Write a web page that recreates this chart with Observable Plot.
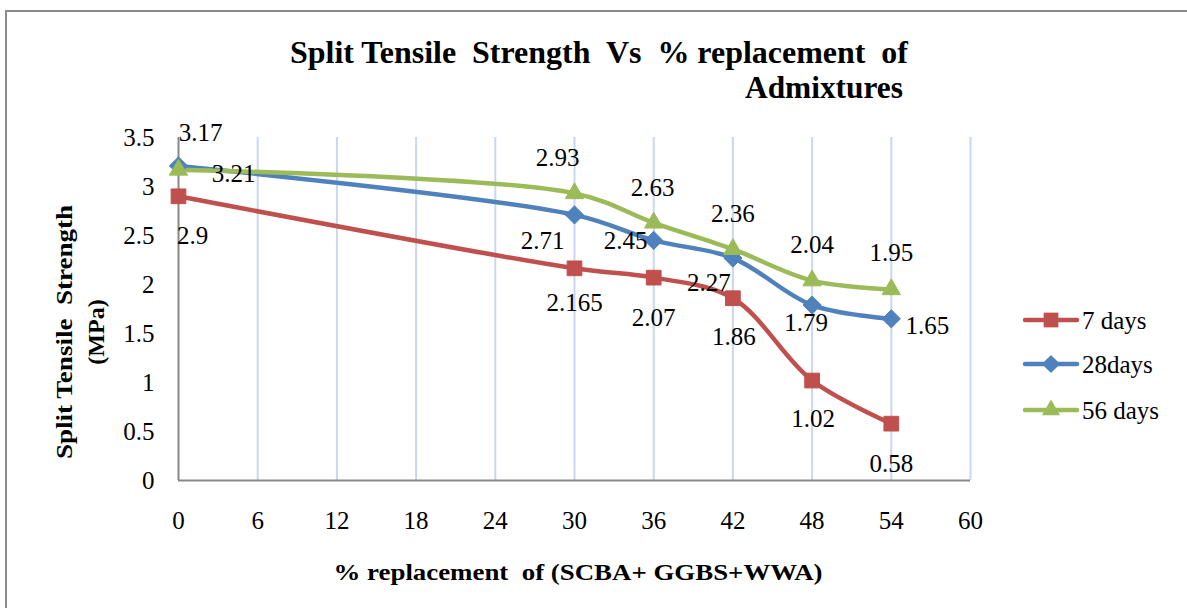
<!DOCTYPE html>
<html>
<head>
<meta charset="utf-8">
<script src="https://cdn.jsdelivr.net/npm/d3@7"></script>
<script src="https://cdn.jsdelivr.net/npm/@observablehq/plot@0.6"></script>
<style>
  html, body { margin: 0; padding: 0; background: #fff; }
  #wrap { position: relative; width: 1187px; height: 608px; overflow: hidden; font-family: "Liberation Serif", "Times New Roman", serif; }
  #frame { position: absolute; left: 5px; top: 10px; width: 1300px; height: 700px; border-left: 2px solid #8a8a8a; border-top: 2px solid #8a8a8a; }
  #chart { position: absolute; left: 0; top: 0; }
  #overlay { position: absolute; left: 0; top: 0; pointer-events: none; }
  #overlay text { white-space: pre; }
</style>
</head>
<body>
<div id="wrap">
  <div id="frame"></div>
  <div id="chart"></div>
  <svg id="overlay" width="1187" height="608"></svg>
</div>
<script>
// ---- data ----
const replacement = [0, 30, 36, 42, 48, 54];
const seriesNames = ["7 days", "28days", "56 days"];
const days7  = [2.9, 2.165, 2.07, 1.86, 1.02, 0.58];
const days28 = [3.21, 2.71, 2.45, 2.27, 1.79, 1.65];
const days56 = [3.17, 2.93, 2.63, 2.36, 2.04, 1.95];
const xTicks = [0, 6, 12, 18, 24, 30, 36, 42, 48, 54, 60];
const yTicks = [0, 0.5, 1, 1.5, 2, 2.5, 3, 3.5];

// ---- styling / layout ----
const colors = ["#C0504D", "#4F81BD", "#9BBB59"];
const symbols = ["square", "diamond2", "triangle"];
const symR = [8.3, 8.2, 6.8];
const fs = 25;
// label nudges (pixels) per series, per point
const nudges = [
  [[14, 40], [0, 35], [0, 40], [1, 39], [1, 38], [0, 40]],
  [[55, 8], [-32, 26], [-28, 1], [-24, 25], [-6, 18], [36, 7]],
  [[22, -37], [-17, -35], [-1, -35], [0, -35], [0, -36], [0, -36]]
];
const allValues = [days7, days28, days56];
const rows = [];
allValues.forEach((vals, s) => vals.forEach((v, i) => rows.push({series: seriesNames[s], s, i, x: replacement[i], y: v, label: String(v)})));

const font = '"Liberation Serif", "Times New Roman", serif';
const marks = [
  Plot.ruleX(xTicks.filter(d => d > 0), {stroke: "#c9d7ef", strokeWidth: 2}),
  Plot.ruleY([0], {stroke: "#888", strokeWidth: 2}),
  Plot.ruleX([0], {stroke: "#888", strokeWidth: 2}),
  Plot.axisX({ticks: xTicks, tickSize: 0, tickPadding: 31, label: null, fontSize: fs, fill: "#000"}),
  Plot.axisY({ticks: yTicks, tickSize: 0, tickPadding: 24, label: null, fontSize: fs, fill: "#000", tickFormat: d => String(d)})
];
seriesNames.forEach((name, s) => {
  const data = rows.filter(r => r.s === s);
  marks.push(Plot.line(data, {x: "x", y: "y", stroke: colors[s], strokeWidth: 4.5, curve: "catmull-rom"}));
});
seriesNames.forEach((name, s) => {
  const data = rows.filter(r => r.s === s);
  marks.push(Plot.dot(data, {x: "x", y: "y", symbol: () => symbols[s], r: symR[s], fill: colors[s], stroke: colors[s], strokeWidth: 1}));
});
rows.forEach(r => {
  const [dx, dy] = nudges[r.s][r.i];
  marks.push(Plot.text([r], {x: "x", y: "y", text: "label", dx, dy, fontSize: fs, fill: "#000"}));
});

const chart = Plot.plot({
  width: 1187,
  height: 608,
  marginLeft: 178,
  marginRight: 217,
  marginTop: 137,
  marginBottom: 128,
  style: {fontFamily: font, background: "transparent", overflow: "visible"},
  x: {domain: [0, 60]},
  y: {domain: [0, 3.5]},
  marks
});
document.getElementById("chart").appendChild(chart);

// ---- titles & legend ----
const ov = d3.select("#overlay");
ov.append("text").attr("x", 599).attr("y", 63).attr("text-anchor", "middle")
  .attr("textLength", 618).attr("lengthAdjust", "spacingAndGlyphs")
  .attr("font-family", font).attr("font-weight", "bold").attr("font-size", 32)
  .text("Split Tensile  Strength  Vs  % replacement  of");
ov.append("text").attr("x", 903).attr("y", 98).attr("text-anchor", "end")
  .attr("textLength", 158).attr("lengthAdjust", "spacingAndGlyphs")
  .attr("font-family", font).attr("font-weight", "bold").attr("font-size", 32)
  .text("Admixtures");
ov.append("text").attr("x", 578).attr("y", 580).attr("text-anchor", "middle")
  .attr("textLength", 489).attr("lengthAdjust", "spacingAndGlyphs")
  .attr("font-family", font).attr("font-weight", "bold").attr("font-size", 24)
  .text("% replacement  of (SCBA+ GGBS+WWA)");
ov.append("text").attr("transform", "translate(64,332) rotate(-90)").attr("text-anchor", "middle")
  .attr("dominant-baseline", "central")
  .attr("textLength", 254).attr("lengthAdjust", "spacingAndGlyphs")
  .attr("font-family", font).attr("font-weight", "bold").attr("font-size", 24)
  .text("Split Tensile  Strength");
ov.append("text").attr("transform", "translate(96,332) rotate(-90)").attr("text-anchor", "middle")
  .attr("dominant-baseline", "central")
  .attr("font-family", font).attr("font-weight", "bold").attr("font-size", 24)
  .text("(MPa)");

const symMap = {square: d3.symbolSquare, diamond2: d3.symbolDiamond2, triangle: d3.symbolTriangle};
seriesNames.forEach((name, s) => {
  const y = [320, 364, 410][s];
  const g = ov.append("g");
  g.append("line").attr("x1", 1025).attr("x2", 1077).attr("y1", y).attr("y2", y)
    .attr("stroke", colors[s]).attr("stroke-width", 4.5).attr("stroke-linecap", "round");
  g.append("path").attr("transform", `translate(1051,${y})`)
    .attr("d", d3.symbol(symMap[symbols[s]], Math.PI * symR[s] * symR[s])())
    .attr("fill", colors[s]);
  g.append("text").attr("x", 1082).attr("y", y).attr("dominant-baseline", "central")
    .attr("font-family", font).attr("font-size", fs).attr("fill", "#000").text(name);
});
</script>
</body>
</html>
